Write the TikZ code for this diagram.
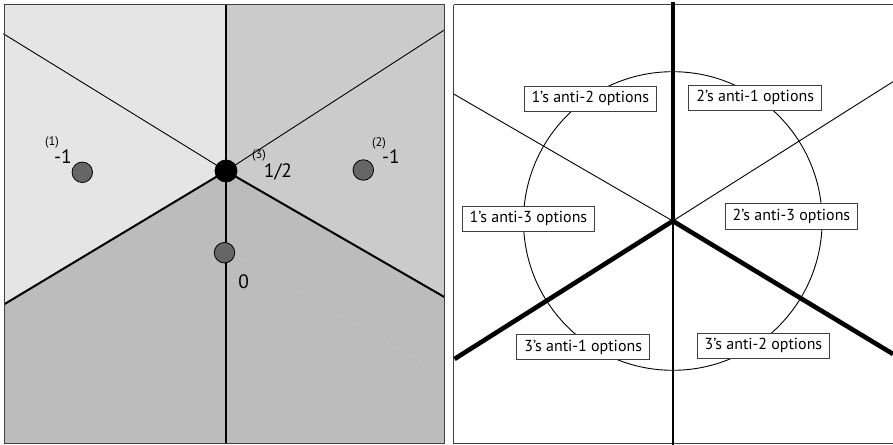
\documentclass[tikz,border=0pt]{standalone}
\usepackage{fontspec}
\setsansfont{PT Sans}
\usetikzlibrary{positioning}

\definecolor{regionA}{HTML}{E5E5E5}
\definecolor{regionB}{HTML}{CBCBCB}
\definecolor{regionC}{HTML}{BCBCBC}
\definecolor{dotgray}{HTML}{666666}
\definecolor{framegray}{HTML}{404040}

\begin{document}
\begin{tikzpicture}[
  x=1bp, y=-1bp,
  every node/.style={font=\sffamily},
  panel/.style={draw=framegray, line width=1.4bp},
  thinline/.style={line width=0.9bp},
  midline/.style={line width=2bp},
  fatline/.style={line width=4.6bp},
  player/.style={circle, draw, fill=dotgray, line width=0.8bp,
    minimum size=20.5bp, inner sep=0pt},
  value/.style={font=\sffamily\fontsize{19.5}{21}\selectfont, inner sep=0pt},
  index/.style={font=\sffamily\fontsize{12.5}{14}\selectfont, inner sep=0pt},
  optbox/.style={draw=framegray, fill=white, line width=0.9bp,
    font=\sffamily\fontsize{16}{18}\selectfont, inner xsep=7.5bp,
    minimum height=25.5bp},
]
  \useasboundingbox (0,0) rectangle (893,445);

  % Left panel: the three shaded regions
  \coordinate (Lc) at (226,171);
  \fill[regionA] (4.7,4.7) -- (226,4.7) -- (Lc) -- (4.7,304) -- cycle;
  \fill[regionB] (226,4.7) -- (444.3,4.7) -- (444.3,297) -- (Lc) -- cycle;
  \fill[regionC] (4.7,304) -- (Lc) -- (444.3,297) -- (444.3,443.7)
    -- (4.7,443.7) -- cycle;

  % region boundaries
  \coordinate (Lul) at (3.3,33.7);
  \coordinate (Lur) at (444.3,30);
  \coordinate (Lll) at (4.7,304);
  \coordinate (Llr) at (444.3,297);
  \coordinate (Ltop) at (226,4.7);
  \coordinate (Lbot) at (226,443.7);
  \draw[thinline] (Lul) -- (Lc) -- (Lur);
  \draw[midline] (Lll) -- (Lc) -- (Llr);
  \draw[midline] (Ltop) -- (Lbot);
  \draw[black!22, line width=0.4bp] (234,255) -- (444.3,375);

  \draw[panel] (4.7,4.7) rectangle (444.3,443.7);

  % players and their values
  \node[player] (p1) at (82.3,172.3) {};
  \node[player] (p2) at (363.3,170) {};
  \node[player] (p0) at (224.5,252.7) {};
  \node[player, fill=black, minimum size=22bp] (p3) at (Lc) {};

  \node[index] (i1) at (52,142) {(1)};
  \node[value] (v1) at (63,157) {-1};
  \node[index] (i2) at (379,143) {(2)};
  \node[value] (v2) at (391,157) {-1};
  \node[index] (i3) at (259,155) {(3)};
  \node[value] (v3) at (278,172) {1/2};
  \node[value] (v0) at (243.7,281.7) {0};

  % Right panel: spokes and circle
  \coordinate (Rc) at (672.8,221);
  \coordinate (Rul) at (453.7,94);
  \coordinate (Rur) at (893,81.7);
  \coordinate (Rll) at (454.5,359);
  \coordinate (Rlr) at (893,354);
  \coordinate (Rtop) at (672.8,2);
  \coordinate (Rbot) at (672.8,445);
  \draw[panel] (453.7,4.7) -- (893,4.7);
  \draw[panel] (893,443.7) -- (453.7,443.7) -- (453.7,4.7);
  \draw[thinline] (Rc) circle[radius=149.3];
  \draw[thinline] (Rul) -- (Rc) -- (Rur);
  \draw[line width=2.4bp] (Rc) -- (Rbot);
  \draw[fatline] (Rll) -- (Rc) -- (Rlr);
  \draw[fatline] (Rc) -- (Rtop);

  % option labels
  \node[optbox] (o12) at (590.3,98.8) {1’s anti-2 options};
  \node[optbox] (o21) at (755.2,97.8) {2’s anti-1 options};
  \node[optbox] (o13) at (528.4,218.8) {1’s anti-3 options};
  \node[optbox] (o23) at (791.4,216.5) {2’s anti-3 options};
  \node[optbox] (o31) at (583.2,347.2) {3’s anti-1 options};
  \node[optbox] (o32) at (763.4,345.8) {3’s anti-2 options};

\end{tikzpicture}
\end{document}
